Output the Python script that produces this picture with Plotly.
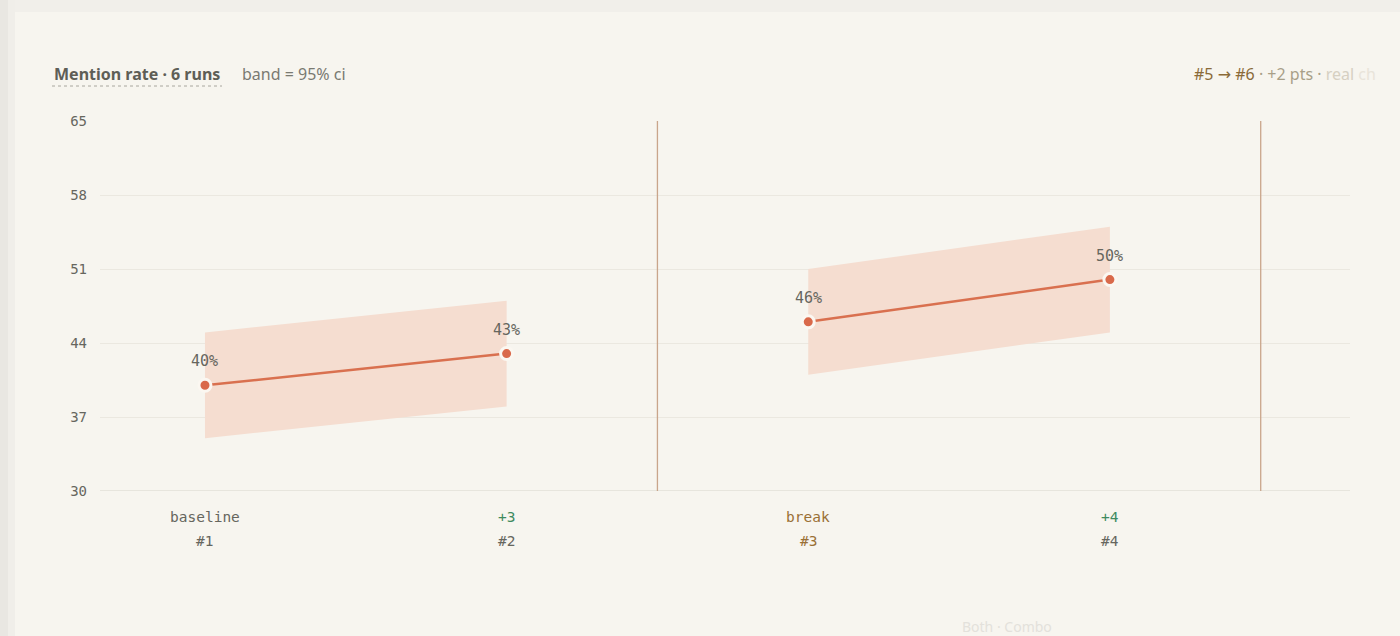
import plotly.graph_objects as go

# ---- data ----
run_idx = [0, 1, 2, 3]
run_labels = ["#1", "#2", "#3", "#4"]
run_tags = ["baseline", "+3", "break", "+4"]
mention_rate = [40, 43, 46, 50]
ci_low = [35, 38, 41, 45]
ci_high = [45, 48, 51, 55]
segments = [[0, 1], [2, 3]]          # connected runs
break_lines = [1.5, 3.5]             # vertical dividers between segments
y_ticks = [30, 37, 44, 51, 58, 65]

# ---- styles ----
BG = "#f7f5ef"
GRID = "#ebe8e0"
INK = "#66665e"
ORANGE = "#d9694a"
LINE = "#d9704f"
BAND = "#f5ddd0"
GREEN = "#3f8a5f"
BROWN = "#9a7035"
MONO = "DejaVu Sans Mono"
SANS = "Noto Sans"

tag_colors = {"baseline": INK, "break": BROWN}
label_colors = {"break": BROWN}

fig = go.Figure()

for seg in segments:
    xs = [run_idx[i] for i in seg]
    lo = [ci_low[i] for i in seg]
    hi = [ci_high[i] for i in seg]
    fig.add_trace(go.Scatter(
        x=xs + xs[::-1], y=lo + hi[::-1], fill="toself", mode="none",
        fillcolor=BAND, hoverinfo="skip", showlegend=False))
    fig.add_trace(go.Scatter(
        x=xs, y=[mention_rate[i] for i in seg], mode="lines+markers",
        line=dict(color=LINE, width=2.5),
        marker=dict(size=12, color=ORANGE, line=dict(color="#fbf7f1", width=3)),
        showlegend=False))

# value labels above points
for x, v in zip(run_idx, mention_rate):
    fig.add_annotation(x=x, y=v, text=f"{v}%", showarrow=False, yshift=24,
                       font=dict(family=MONO, size=15, color=INK))

# x category labels (two rows)
for x, tag, lab in zip(run_idx, run_tags, run_labels):
    tc = tag_colors.get(tag, GREEN)
    lc = label_colors.get(tag, INK)
    fig.add_annotation(x=x, xref="x", y=0, yref="paper", yshift=-36, text=tag,
                       showarrow=False, font=dict(family=MONO, size=14.5, color=tc))
    fig.add_annotation(x=x, xref="x", y=0, yref="paper", yshift=-60, text=lab,
                       showarrow=False, font=dict(family=MONO, size=14.5, color=lc))

# vertical break dividers
for bx in break_lines:
    fig.add_shape(type="line", x0=bx, x1=bx, xref="x", y0=0, y1=1, yref="paper",
                  line=dict(color="#c9a58b", width=1.3), layer="above")

# baseline axis line
fig.add_shape(type="line", x0=0, x1=1, xref="paper", y0=30, y1=30, yref="y",
              line=dict(color="#e2dfd7", width=1.5), layer="below")

# card edges (top shadow strip, left edge)
fig.add_shape(type="rect", xref="paper", yref="paper",
              x0=(0 - 100) / 1250, x1=(1400 - 100) / 1250,
              y0=(491 - 12) / 370, y1=(491 - 0) / 370,
              fillcolor="#f1efea", line=dict(width=0), layer="below")
fig.add_shape(type="rect", xref="paper", yref="paper",
              x0=(0 - 100) / 1250, x1=(8 - 100) / 1250,
              y0=(491 - 636) / 370, y1=(491 - 0) / 370,
              fillcolor="#e9e7e2", line=dict(width=0), layer="below")
fig.add_shape(type="rect", xref="paper", yref="paper",
              x0=(8 - 100) / 1250, x1=(15 - 100) / 1250,
              y0=(491 - 636) / 370, y1=(491 - 0) / 370,
              fillcolor="#f0eee9", line=dict(width=0), layer="below")

# header
fig.add_annotation(xref="paper", yref="paper", x=(52 - 100) / 1250, y=(491 - 74) / 370,
                   xanchor="left", yanchor="middle", showarrow=False,
                   text="<b>Mention rate · 6 runs</b>",
                   font=dict(family=SANS, size=16, color="#5e5e56"))
fig.add_shape(type="line", xref="paper", yref="paper",
              x0=(52 - 100) / 1250, x1=(222 - 100) / 1250,
              y0=(491 - 86) / 370, y1=(491 - 86) / 370,
              line=dict(color="#a8a69e", width=1, dash="dot"))
fig.add_annotation(xref="paper", yref="paper", x=(240 - 100) / 1250, y=(491 - 74) / 370,
                   xanchor="left", yanchor="middle", showarrow=False,
                   text="band = 95% ci",
                   font=dict(family=SANS, size=16, color="#7a7a72"))
fig.add_annotation(xref="paper", yref="paper", x=(1192 - 100) / 1250, y=(491 - 74) / 370,
                   xanchor="left", yanchor="middle", showarrow=False,
                   text=("<span style='color:#8a6a38'>#5 "
                         "<span style='font-family:DejaVu Sans'>→</span> #6</span>"
                         "<span style='color:#a89f88'> · +2 pts · </span>"
                         "<span style='color:#d6d0c2'>real </span>"
                         "<span style='color:#e9e4da'>ch</span>"),
                   font=dict(family=SANS, size=16))

# faint footer
fig.add_annotation(xref="paper", yref="paper", x=(960 - 100) / 1250, y=(491 - 626) / 370,
                   xanchor="left", yanchor="middle", showarrow=False,
                   text="Both · Combo", font=dict(family=SANS, size=14, color="#e3e1db"))

fig.update_layout(
    width=1400, height=636,
    paper_bgcolor=BG, plot_bgcolor=BG,
    margin=dict(l=100, r=50, t=121, b=145),
    showlegend=False,
    xaxis=dict(range=[-0.348, 3.796], showgrid=False, zeroline=False,
               showticklabels=False, showline=False, fixedrange=True),
    yaxis=dict(range=[30, 65], tickvals=y_ticks, showgrid=True, gridcolor=GRID,
               gridwidth=1, zeroline=False, showline=False, ticks="",
               ticklabelstandoff=12,
               tickfont=dict(family=MONO, size=14, color=INK), fixedrange=True),
)

fig.write_html("out.html", config={"displayModeBar": False},
               post_script="document.body.style.margin='0';document.body.style.overflow='hidden';")
